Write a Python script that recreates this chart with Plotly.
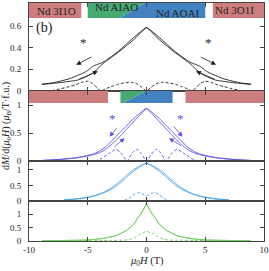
import plotly.graph_objects as go

# ---------------- data ----------------
# panel 1 (black)
x_k = [-8.9,-8.0,-7.3,-6.5,-5.9,-5.4,-5.0,-4.6,-4.2,-3.9,-3.5,-3.0,-2.5,-2.0,-1.6,-1.0,-0.5,0.0,
       0.5,1.0,1.6,2.0,2.5,3.0,3.5,3.9,4.2,4.6,5.0,5.4,5.9,6.5,7.3,8.0,8.9]
k_down = [0.062,0.075,0.092,0.115,0.142,0.165,0.19,0.225,0.245,0.256,0.28,0.318,0.358,0.405,0.445,0.502,0.548,0.585,
          0.537,0.482,0.428,0.392,0.35,0.31,0.27,0.235,0.2,0.165,0.14,0.12,0.10,0.09,0.078,0.07,0.062]
k_up = [0.062,0.07,0.078,0.09,0.10,0.12,0.14,0.165,0.2,0.235,0.27,0.31,0.35,0.392,0.428,0.482,0.537,0.585,
        0.548,0.502,0.445,0.405,0.358,0.318,0.28,0.256,0.245,0.225,0.19,0.165,0.142,0.115,0.092,0.075,0.062]
x_kd = [-8.9,-8.0,-7.3,-6.6,-6.1,-5.5,-5.0,-4.6,-4.2,-3.9,-3.5,-3.0,-2.5,-1.9,-1.3,-0.8,-0.4,0.0,
        0.4,0.8,1.3,1.9,2.5,3.0,3.5,3.9,4.2,4.6,5.0,5.5,6.1,6.6,7.3,8.0,8.9]
k_diff = [0.0,0.005,0.02,0.04,0.055,0.08,0.09,0.07,0.03,0.0,0.02,0.04,0.06,0.075,0.08,0.065,0.035,0.0,
          0.035,0.065,0.08,0.075,0.06,0.04,0.02,0.0,0.03,0.07,0.09,0.08,0.055,0.04,0.02,0.005,0.0]

# panel 2 (purple)
x_p = [-8.9,-8.0,-7.3,-6.5,-5.9,-5.0,-4.5,-4.1,-3.7,-3.3,-2.9,-2.5,-2.1,-1.7,-1.3,-0.9,-0.5,-0.2,0.0,
       0.2,0.5,0.9,1.3,1.7,2.1,2.5,2.9,3.3,3.7,4.1,4.5,5.0,5.9,6.5,7.3,8.0,8.9]
p_down = [0.01,0.02,0.03,0.045,0.06,0.10,0.13,0.165,0.22,0.29,0.37,0.46,0.55,0.63,0.72,0.80,0.87,0.92,0.94,
          0.91,0.84,0.75,0.66,0.57,0.48,0.39,0.31,0.24,0.18,0.14,0.115,0.09,0.06,0.045,0.03,0.02,0.01]
p_up = [0.01,0.02,0.03,0.045,0.06,0.09,0.115,0.14,0.18,0.24,0.31,0.39,0.48,0.57,0.66,0.75,0.84,0.91,0.94,
        0.92,0.87,0.80,0.72,0.63,0.55,0.46,0.37,0.29,0.22,0.165,0.13,0.10,0.06,0.045,0.03,0.02,0.01]
x_pd = [-6.5,-5.5,-4.4,-3.8,-3.1,-2.6,-2.2,-1.65,-1.2,-0.8,-0.4,0.0,0.4,0.8,1.2,1.65,2.2,2.6,3.1,3.8,4.4,5.5,6.5]
p_diff = [0.0,0.005,0.0,0.05,0.15,0.21,0.15,0.0,0.15,0.21,0.12,0.0,0.12,0.21,0.15,0.0,0.15,0.21,0.15,0.05,0.0,0.005,0.0]

# panel 3 (light blue)
x_c = [-7.0,-6.0,-5.0,-4.2,-3.6,-3.0,-2.5,-2.0,-1.6,-1.2,-0.8,-0.4,-0.15,0.0,0.15,0.4,0.8,1.2,1.6,2.0,2.5,3.0,3.6,4.2,5.0,6.0,7.0]
c_down = [0.04,0.07,0.12,0.2,0.29,0.42,0.56,0.72,0.86,0.98,1.08,1.16,1.2,1.22,1.2,1.14,1.04,0.93,0.80,0.66,0.50,0.38,0.27,0.19,0.115,0.065,0.04]
c_up = [0.04,0.065,0.115,0.19,0.27,0.38,0.50,0.66,0.80,0.93,1.04,1.14,1.2,1.22,1.2,1.16,1.08,0.98,0.86,0.72,0.56,0.42,0.29,0.2,0.12,0.07,0.04]
x_cd = [-7.0,-6.0,-5.0,-4.0,-3.0,-2.0,-1.5,-1.0,-0.7,-0.4,0.0,0.4,0.7,1.0,1.5,2.0,3.0,4.0,5.0,6.0,7.0]
c_diff = [0.02,0.03,0.01,0.01,0.0,0.01,0.08,0.22,0.27,0.24,0.16,0.24,0.27,0.22,0.08,0.01,0.0,0.01,0.01,0.03,0.02]

# panel 4 (green)
x_g = [-8.9,-7.0,-5.0,-4.0,-3.3,-2.6,-2.16,-1.7,-1.3,-1.0,-0.77,-0.5,-0.34,-0.15,0.0,
       0.15,0.34,0.5,0.77,1.0,1.3,1.7,2.16,2.6,3.3,4.0,5.0,7.0,8.9]
g_val = [0.01,0.02,0.04,0.08,0.13,0.2,0.29,0.4,0.54,0.68,0.85,1.0,1.12,1.27,1.4,
         1.27,1.12,1.0,0.85,0.68,0.54,0.4,0.29,0.2,0.13,0.08,0.04,0.02,0.01]
x_gd = [-7.0,-5.0,-4.0,-3.0,-2.0,-1.5,-1.0,-0.6,-0.3,0.0,0.3,0.6,1.0,1.5,2.0,3.0,4.0,5.0,7.0]
g_diff = [0.01,0.02,0.02,0.02,0.03,0.05,0.12,0.24,0.3,0.37,0.3,0.28,0.15,0.06,0.03,0.03,0.02,0.02,0.01]

# phase bars
top_red = [(-10, -5.55), (5.65, 10)]
top_red_labels = [(-7.66, 0.741, "Nd 3I1O"), (7.5, 0.75, "Nd 3O1I")]
top_mix = (-5.0, 5.0, -2.3, -0.15)        # x0, x1, diagonal bottom x, diagonal top x
top_mix_labels = [(-2.55, 0.776, "Nd AIAO"), (2.62, 0.723, "Nd AOAI")]
bot_red = [(-10, -3.27), (3.32, 10)]
bot_mix = (-2.22, 2.22, -2.0, 0.0)

# arrows: (tail_x, tail_y, head_x, head_y)
arrows_k = [(-4.57, 0.32, -5.99, 0.243), (-5.85, 0.104, -4.14, 0.182),
            (4.5, 0.32, 5.92, 0.243), (5.92, 0.104, 4.22, 0.182)]
stars_k = [(-5.35, 0.45), (5.28, 0.45)]
arrows_p = [(-2.44, 0.616, -3.15, 0.436), (-2.87, 0.228, -1.87, 0.41),
            (2.21, 0.646, 3.06, 0.436), (3.06, 0.257, 1.92, 0.41)]
stars_p = [(-2.87, 0.767), (2.87, 0.767)]

Y_TITLE = "d<i>M</i>/d(<i>μ</i><sub>0</sub><i>H</i>) (<i>μ</i><sub>B</sub>/T·f.u.)"
X_TITLE = "<i>μ</i><sub>0</sub><i>H</i> (T)"

# ---------------- style ----------------
FONT = "Liberation Serif"
RED = "rgb(205,125,125)"
GREEN = "rgb(72,170,115)"
BLUE = "rgb(66,130,192)"
BLACK = "rgb(30,30,30)"
PURPLE = "rgb(90,80,228)"
LBLUE = "rgb(75,165,232)"
LGREEN = "rgb(115,205,95)"
AX = "#444444"
W, H = 269, 271

fig = go.Figure()

def add_pair(xs, ya, yb, xd, yd, color, axis):
    xa, yaa = ("x" + axis, "y" + axis) if axis else ("x", "y")
    for yy in (ya, yb):
        fig.add_trace(go.Scatter(x=xs, y=yy, mode="lines", xaxis=xa, yaxis=yaa,
                                 line=dict(color=color, width=0.9, shape="spline", smoothing=0.6),
                                 showlegend=False, hoverinfo="skip"))
    fig.add_trace(go.Scatter(x=xd, y=yd, mode="lines", xaxis=xa, yaxis=yaa,
                             line=dict(color=color, width=0.9, dash="3px,2px",
                                       shape="spline", smoothing=0.5),
                             showlegend=False, hoverinfo="skip"))

add_pair(x_k, k_down, k_up, x_kd, k_diff, BLACK, "")
add_pair(x_p, p_down, p_up, x_pd, p_diff, PURPLE, "2")
add_pair(x_c, c_down, c_up, x_cd, c_diff, LBLUE, "3")
add_pair(x_g, g_val, g_val, x_gd, g_diff, LGREEN, "4")

# panel pixel edges (top, bottom) -> paper fractions of the whole figure
edges = [(3, 91), (91, 161), (161, 201), (201, 241)]
domains = [[(H - b) / H, (H - t) / H] for t, b in edges]
xdom = [29 / W, 264 / W]
yranges = [[0, 0.8125], [0, 1.257], [0, 1.29], [0, 1.5]]
yticks = [[0, 0.2, 0.4, 0.6], [0, 0.5, 1], [0, 0.5, 1], [0, 0.5, 1]]
yticktext = [["0", "0.2", "0.4", "0.6"], ["0", "0.5", "1"], ["0", "0.5", "1"], ["0", "0.5", "1"]]

tickfont = dict(family=FONT, size=9, color="#222")
lay = {}
for i in range(4):
    s = "" if i == 0 else str(i + 1)
    lay["xaxis" + s] = dict(domain=xdom, range=[-10, 10], anchor="y" + s, automargin=False,
                            tickvals=[-10, -5, 0, 5, 10], ticktext=["-10", "-5", "0", "5", "10"],
                            showticklabels=(i == 3), ticks="inside", ticklen=4, tickwidth=0.8,
                            tickcolor=AX, mirror="allticks", showline=True, linecolor=AX,
                            linewidth=1, showgrid=False, zeroline=False, tickfont=tickfont,
                            ticklabelstandoff=0)
    lay["yaxis" + s] = dict(domain=domains[i], range=yranges[i], anchor="x" + s, automargin=False,
                            tickvals=yticks[i], ticktext=yticktext[i], ticks="inside", ticklen=4,
                            tickwidth=0.8, tickcolor=AX, mirror="allticks", showline=True,
                            linecolor=AX, linewidth=1, showgrid=False, zeroline=False,
                            tickfont=tickfont, ticklabelstandoff=5)
# shared y title carried by panel 2's axis; trailing no-break spaces move it down to the
# position it has in the original figure
lay["yaxis2"]["title"] = dict(text=Y_TITLE + "\u00a0" * 11,
                              font=dict(family=FONT, size=10, color="#222"), standoff=0)

shapes = []
ty0, ty1 = 0.674, 0.8125
for x0, x1 in top_red:
    shapes.append(dict(type="rect", xref="x", yref="y", x0=x0, x1=x1, y0=ty0, y1=ty1,
                       fillcolor=RED, line=dict(width=0), layer="below"))
a0, a1, db, dt = top_mix
shapes.append(dict(type="path", xref="x", yref="y", layer="below", fillcolor=GREEN, line=dict(width=0),
                   path=f"M{a0},{ty0} L{a0},{ty1} L{dt},{ty1} L{db},{ty0} Z"))
shapes.append(dict(type="path", xref="x", yref="y", layer="below", fillcolor=BLUE, line=dict(width=0),
                   path=f"M{db},{ty0} L{dt},{ty1} L{a1},{ty1} L{a1},{ty0} Z"))
by0, by1 = 1.04, 1.257
for x0, x1 in bot_red:
    shapes.append(dict(type="rect", xref="x2", yref="y2", x0=x0, x1=x1, y0=by0, y1=by1,
                       fillcolor=RED, line=dict(width=0), layer="below"))
a0, a1, db, dt = bot_mix
shapes.append(dict(type="path", xref="x2", yref="y2", layer="below", fillcolor=GREEN, line=dict(width=0),
                   path=f"M{a0},{by0} L{a0},{by1} L{dt},{by1} L{db},{by0} Z"))
shapes.append(dict(type="path", xref="x2", yref="y2", layer="below", fillcolor=BLUE, line=dict(width=0),
                   path=f"M{db},{by0} L{dt},{by1} L{a1},{by1} L{a1},{by0} Z"))

ann = []
barfont = dict(family=FONT, size=11, color="#222")
for x, y, t in top_red_labels + top_mix_labels:
    ann.append(dict(x=x, y=y, xref="x", yref="y", text=t, showarrow=False, font=barfont))
ann.append(dict(x=-8.65, y=0.58, xref="x", yref="y", text="(b)", showarrow=False,
                font=dict(family=FONT, size=14, color="#222")))

def add_arrows(lst, color, xr, yr):
    for tx, ty, hx, hy in lst:
        ann.append(dict(x=hx, y=hy, ax=tx, ay=ty, xref=xr, yref=yr, axref=xr, ayref=yr, text="",
                        showarrow=True, arrowhead=2, arrowsize=1.2, arrowwidth=0.8, arrowcolor=color))

def add_stars(lst, color, xr, yr):
    for x, y in lst:
        ann.append(dict(x=x, y=y, xref=xr, yref=yr, text="*", showarrow=False,
                        font=dict(family=FONT, size=13, color=color)))

add_arrows(arrows_k, BLACK, "x", "y")
add_stars(stars_k, BLACK, "x", "y")
add_arrows(arrows_p, PURPLE, "x2", "y2")
add_stars(stars_p, PURPLE, "x2", "y2")

ann.append(dict(x=146.5 / W, y=(H - 261) / H, xref="paper", yref="paper", xanchor="center",
                yanchor="middle", showarrow=False,
                text=X_TITLE, font=dict(family=FONT, size=10.5, color="#222")))

fig.update_layout(**lay)
fig.update_layout(width=W, height=H, autosize=False,
                  margin=dict(l=0, r=0, t=0, b=0, pad=0, autoexpand=False),
                  paper_bgcolor="white", plot_bgcolor="white",
                  shapes=shapes, annotations=ann, showlegend=False)

fig.write_html("out.html", config={"displayModeBar": False},
               post_script="document.body.style.margin='0px';")
